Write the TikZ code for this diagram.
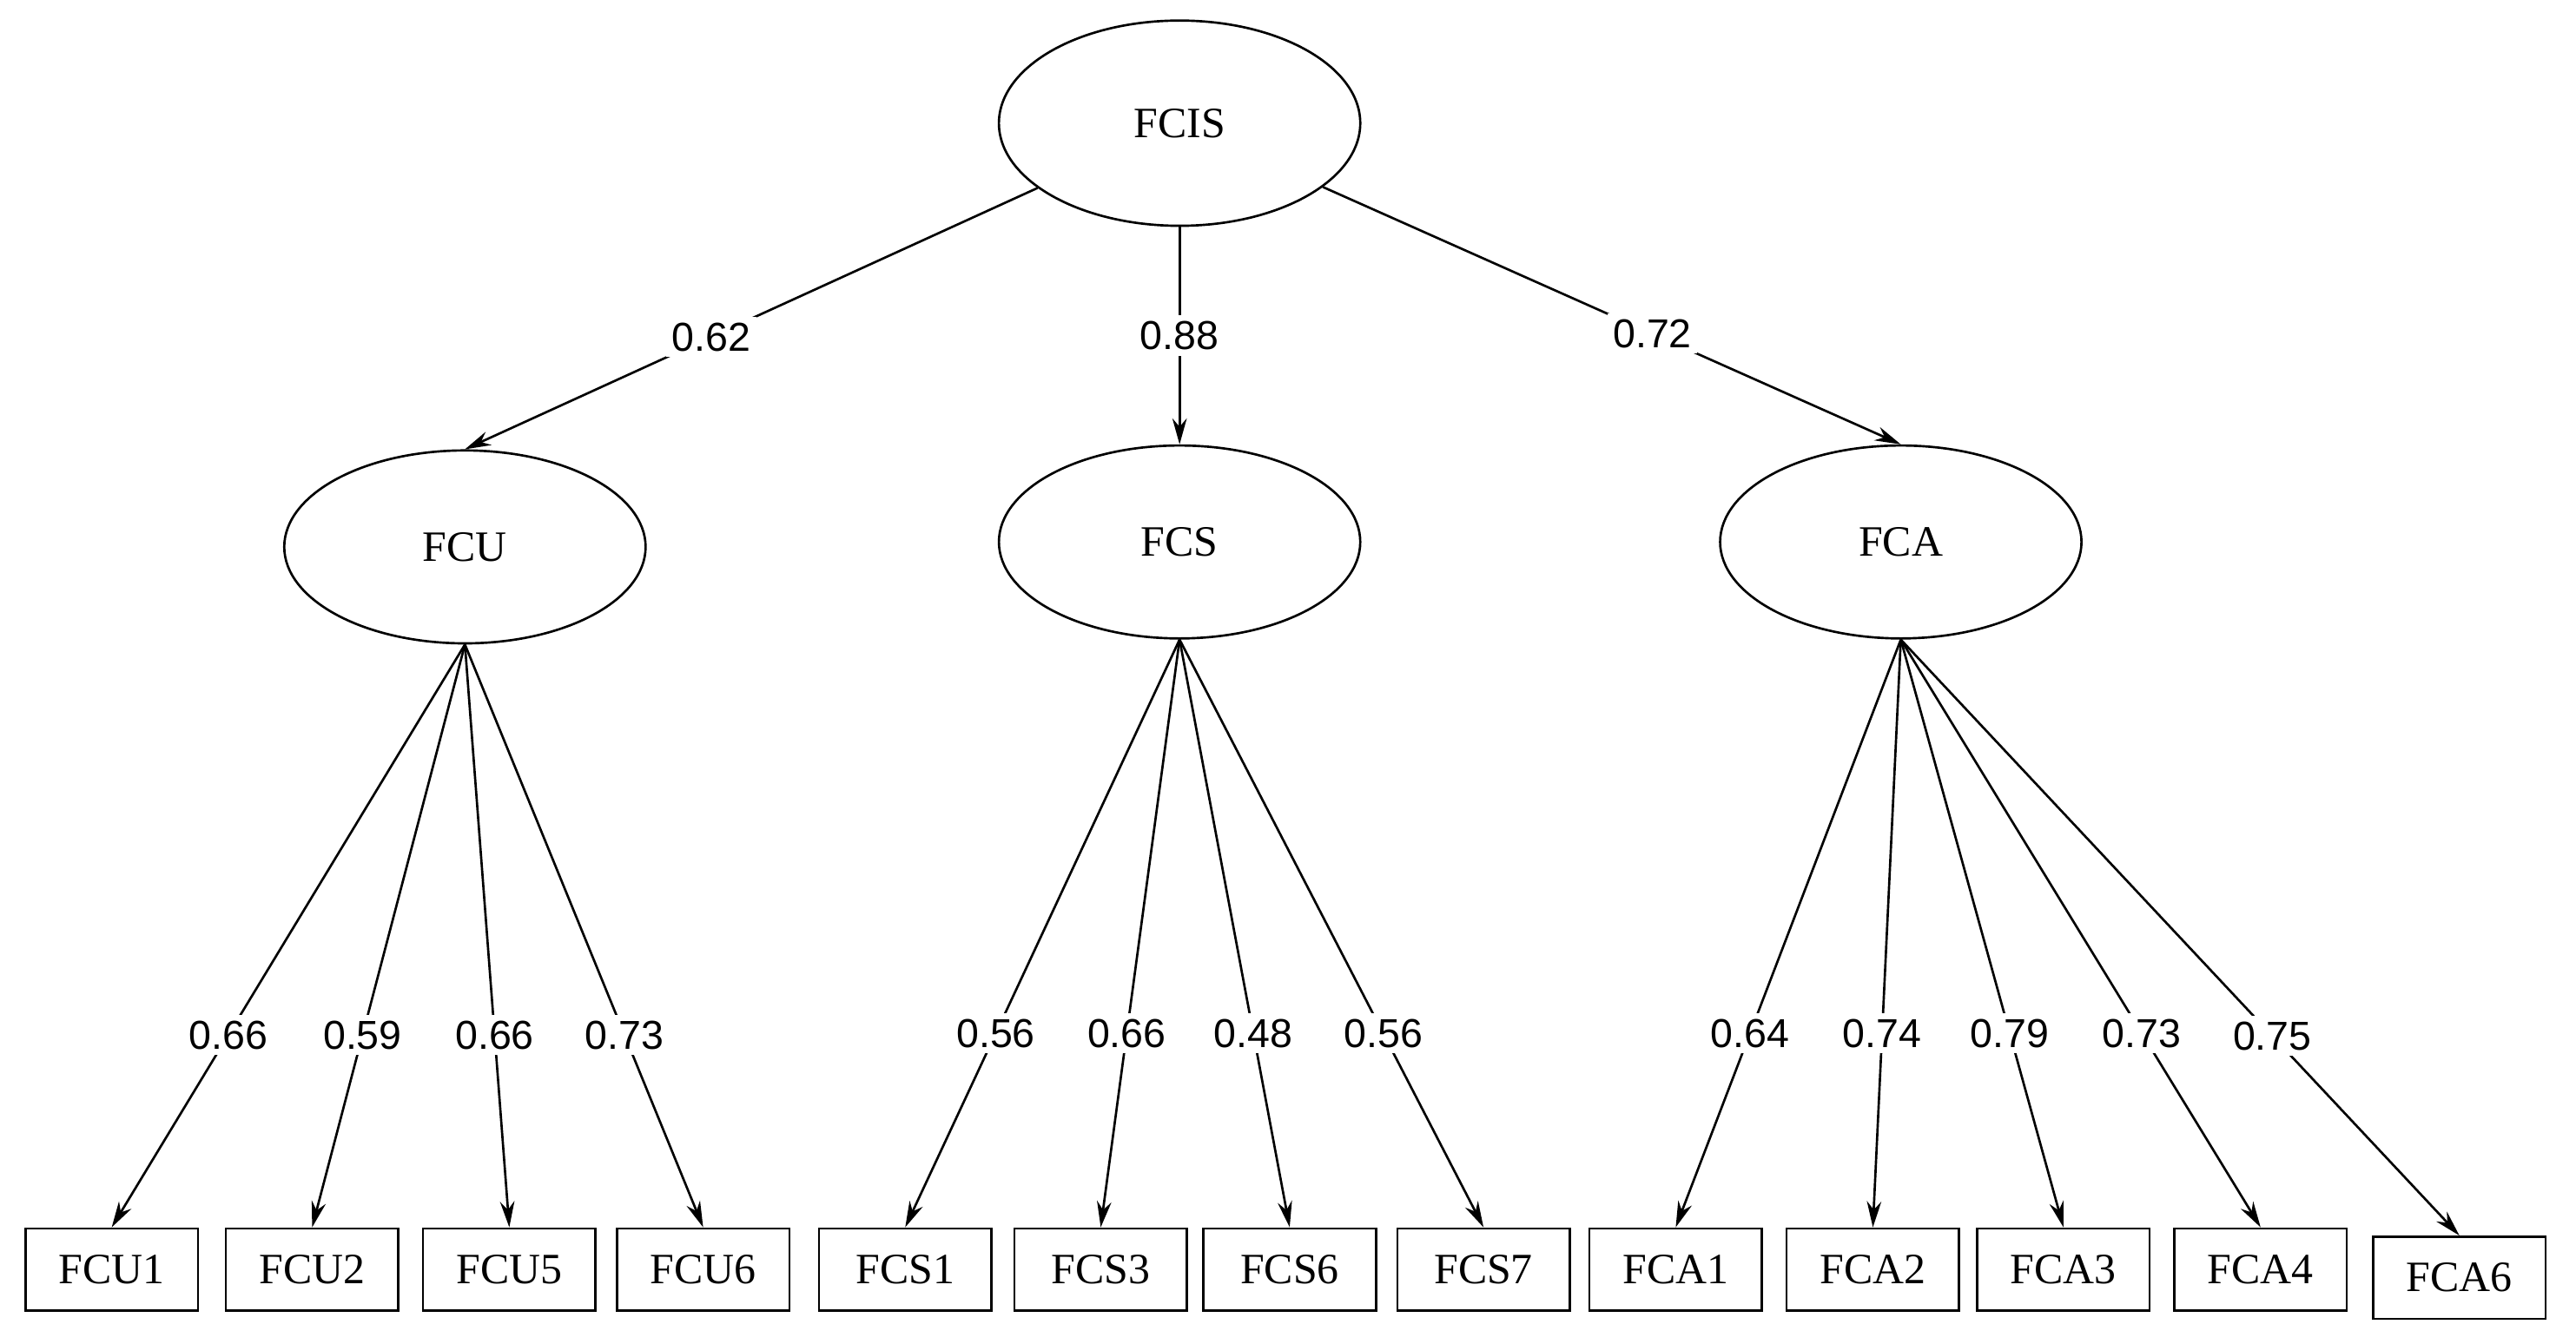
\documentclass[tikz,border=0pt]{standalone}
\usepackage{fontspec}
\setmainfont{Liberation Serif}
\newfontfamily\lab{Liberation Sans}
\usetikzlibrary{shapes.geometric,arrows.meta}
\begin{document}
\begin{tikzpicture}[x=0.02cm,y=-0.02cm,
  lat/.style={ellipse,draw,line width=0.8pt,minimum width=4.4cm,minimum height=2.35cm,font=\fontsize{15}{18}\selectfont},
  obs/.style={rectangle,draw,line width=0.8pt,minimum width=2.1cm,minimum height=1cm,inner sep=0pt,font=\fontsize{15}{18}\selectfont},
  arr/.style={line width=0.8pt,-{Stealth[length=9pt,width=5pt]}},
  lb/.style={fill=white,inner sep=2pt,font=\lab\fontsize{14}{16}\selectfont}]
\useasboundingbox (0,0) rectangle (1568,818);
\node[lat,minimum height=2.5cm] (fcis) at (718,75) {FCIS};
\node[lat] (fcu) at (283,333) {FCU};
\node[lat] (fcs) at (718,330) {FCS};
\node[lat] (fca) at (1157,330) {FCA};
\foreach \n/\x in {FCU1/68,FCU2/190,FCU5/310,FCU6/428,FCS1/551,FCS3/670,FCS6/785,FCS7/903,FCA1/1020,FCA2/1140,FCA3/1256,FCA4/1376}
  \node[obs] (\n) at (\x,773) {\n};
\node[obs] (FCA6) at (1497,778) {FCA6};
\draw[arr] (fcis) -- node[lb,pos=0.57]{0.62} (fcu.north);
\draw[arr] (fcis) -- node[lb,pos=0.5]{0.88} (fcs.north);
\draw[arr] (fcis) -- node[lb,pos=0.57]{0.72} (fca.north);
\foreach \t/\v in {FCU1/0.66,FCU2/0.59,FCU5/0.66,FCU6/0.73}
  \draw[arr] (fcu.south) -- node[lb,pos=0.67]{\v} (\t.north);
\foreach \t/\v in {FCS1/0.56,FCS3/0.66,FCS6/0.48,FCS7/0.56}
  \draw[arr] (fcs.south) -- node[lb,pos=0.67]{\v} (\t.north);
\foreach \t/\v in {FCA1/0.64,FCA2/0.74,FCA3/0.79,FCA4/0.73}
  \draw[arr] (fca.south) -- node[lb,pos=0.67]{\v} (\t.north);
\draw[arr] (fca.south) -- node[lb,pos=0.665]{0.75} (FCA6.north);
\end{tikzpicture}
\end{document}
